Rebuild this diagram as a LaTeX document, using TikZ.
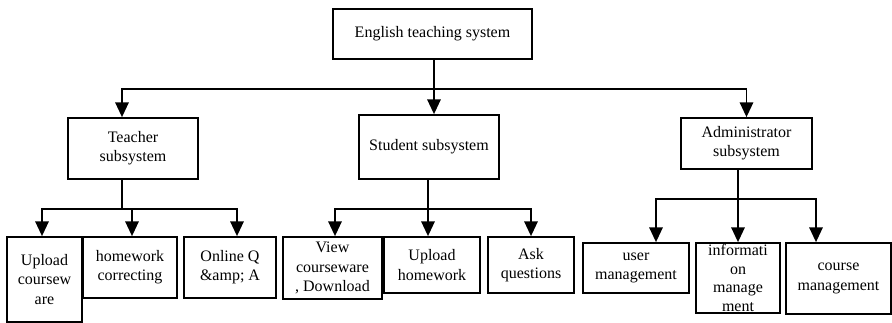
\documentclass[tikz,border=0pt]{standalone}
\usepackage{fontspec}
\setmainfont{Liberation Serif}
\usepackage{tikz}
\usetikzlibrary{arrows.meta,calc}
\tikzset{
  >={Triangle[length=11pt,width=10pt]},
  box/.style={draw=black,line width=1.3pt,fill=white,inner sep=1pt,align=center,font=\fontsize{12}{14.4}\selectfont},
  tightbox/.style={inner ysep=0pt,font=\fontsize{12}{13.8}\selectfont},
  link/.style={line width=1.3pt,draw=black},
  ptr/.style={link,->},
}
\newcommand{\bx}[6][]{\node[box,#1,minimum width=#4*0.75pt,minimum height=#5*0.75pt] (#2) at (#3) {#6};}

\begin{document}
\begin{tikzpicture}[x=0.75pt,y=-0.75pt]
  \useasboundingbox (0,0) rectangle (892,323);
  \bx{sys}{432.5,34}{199}{50}{English teaching system}
  \bx{teach}{133,148.5}{130}{61}{Teacher\\subsystem}
  \bx{stud}{429,147}{140}{64}{Student subsystem}
  \bx{admin}{746.5,143.5}{131}{51}{Administrator\\subsystem}
  \bx{upcw}{44.5,279.5}{75}{85}{Upload\\coursew\\are}
  \bx{corr}{130,267.5}{94}{61}{homework\\correcting}
  \bx{qa}{230,267.5}{92}{61}{Online Q\\\&amp; A}
  \bx{view}{332.5,268}{99}{62}{View\\courseware\\, Download}
  \bx{uphw}{432,265}{96}{56}{Upload\\homework}
  \bx{ask}{531,265}{86}{56}{Ask\\questions}
  \bx{user}{636,268}{106}{50}{user\\management}
  \bx[tightbox]{info}{738,278}{84}{70}{informati\\on\\manage\\ment}
  \bx{course}{838.5,278.5}{105}{71}{course\\management}
  \coordinate (j0) at (434,89);
  \coordinate (j1) at (122,209);
  \coordinate (j2) at (428,209);
  \coordinate (j3) at (738,199);
  \draw[link] (sys.south -| j0) -- (j0);
  \draw[ptr] (j0) -| ($(teach.north)+(-11,0)$);
  \draw[ptr] (j0) -- (stud.north -| j0);
  \draw[ptr] (j0) -| (admin.north);
  \draw[link] (teach.south -| j1) -- (j1);
  \draw[ptr] (j1) -| ($(upcw.north)+(-2.5,0)$);
  \draw[ptr] (j1) -| ($(corr.north)+(2,0)$);
  \draw[ptr] (j1) -| ($(qa.north)+(7,0)$);
  \draw[link] (stud.south -| j2) -- (j2);
  \draw[ptr] (j2) -| ($(view.north)+(2.5,0)$);
  \draw[ptr] (j2) -- (uphw.north -| j2);
  \draw[ptr] (j2) -| (ask.north);
  \draw[link] (admin.south -| j3) -- (j3);
  \draw[ptr] (j3) -| ($(user.north)+(20,0)$);
  \draw[ptr] (j3) -- (info.north);
  \draw[ptr] (j3) -| ($(course.north)+(-22.5,0)$);
\end{tikzpicture}
\end{document}
